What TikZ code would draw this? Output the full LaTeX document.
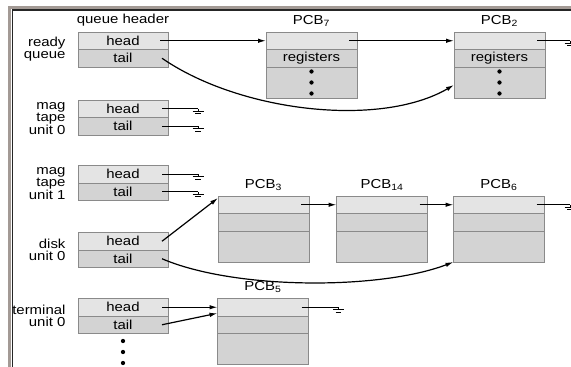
\documentclass[tikz,border=0pt]{standalone}
\usepackage{fontspec}
\setmainfont{Liberation Sans}[FakeStretch=1.15]
\usetikzlibrary{positioning,arrows.meta}

\definecolor{cellhi}{HTML}{E4E4E4}
\definecolor{celllo}{HTML}{D3D3D3}
\definecolor{celledge}{HTML}{8A8A8A}
\definecolor{frameout}{HTML}{A39A95}

\tikzset{
  txt/.style={font=\fontsize{13}{12}\selectfont},
  cell/.style={txt, draw=celledge, line width=0.9pt, inner sep=0pt, outer sep=0pt, minimum height=17.5pt},
  qcell/.style={cell, minimum width=90pt},
  pcell/.style={cell, minimum width=91pt},
  ptr/.style={line width=1.2pt, -{Latex[length=8pt,width=4.5pt]}},
  nilptr/.style={line width=1.2pt},
  dot/.style={circle, fill=black, inner sep=0pt, minimum size=4.3pt},
  lbl/.style={txt, align=right, anchor=east},
  gnd/.pic={
    \draw[line width=1pt] (0pt,0pt) -- (0pt,-2.5pt)
      (-5.5pt,-2.5pt) -- (5.5pt,-2.5pt) (-2.8pt,-5pt) -- (2.8pt,-5pt);
  }
}

\begin{document}
\begin{tikzpicture}[x=1pt, y=-1pt]
  \clip (0,0) rectangle (571,367);
  % frame
  \draw[line width=3pt, frameout] (9.5,367) -- (9.5,7) -- (571,7);
  \draw[line width=1.3pt, black!85] (12.3,367) -- (12.3,10) -- (571,10);

  % queue headers
  \foreach \q/\y in {rq/32, mt0/100, mt1/165.5, dk/232.5, tm/298.5} {
    \node[qcell, fill=cellhi, anchor=north] (\q-h) at (123,\y) {head};
    \node[qcell, fill=celllo, below=0pt of \q-h] (\q-t) {tail};
  }
  \node[txt, above=2.5pt of rq-h] (qhd) {queue header};

  \node[lbl] (rq-l)  at (69,49)  {ready\\queue};
  \node[lbl] (mt0-l) at (69,119) {mag\\tape\\unit 0};
  \node[lbl] (mt1-l) at (69,184) {mag\\tape\\unit 1};
  \node[lbl] (dk-l)  at (69,250) {disk\\unit 0};
  \node[lbl] (tm-l)  at (69,316) {terminal\\unit 0};

  \foreach \k in {341,352,363}
    \node[dot] at (123,\k) {};

  % PCBs
  \foreach \p/\x/\y in {7/311.5/32, 2/499.5/32, 3/263.5/196, 14/382/196, 6/499/196, 5/263/298.5} {
    \node[pcell, fill=cellhi, anchor=north] (pcb\p-a) at (\x,\y) {};
    \node[pcell, fill=celllo, below=0pt of pcb\p-a] (pcb\p-b) {};
    \node[pcell, fill=celllo, minimum height=31pt, below=0pt of pcb\p-b] (pcb\p-c) {};
    \node[txt, above=2pt of pcb\p-a] (pcb\p-l) {PCB\textsubscript{\p}};
  }
  \foreach \p in {7,2} {
    \node[txt] (pcb\p-r) at (pcb\p-b) {registers};
    \foreach \k in {-11,0,11}
      \node[dot] at ([yshift=\k pt]pcb\p-c.center) {};
  }

  % ready queue
  \draw[ptr] ([xshift=-8pt]rq-h.east) -- (pcb7-a.west);
  \draw[ptr] ([xshift=-8pt]pcb7-a.east) -- (pcb2-a.west);
  \coordinate (rq-end) at (570,40.75);
  \draw[nilptr] ([xshift=-8pt]pcb2-a.east) -- (rq-end) pic{gnd};
  \draw[ptr] ([xshift=-6pt]rq-t.east) .. controls (240,112) and (380,128) .. ([yshift=-2.5pt]pcb2-c.west);

  % mag tapes, empty
  \foreach \q in {mt0,mt1} {
    \draw[nilptr] ([xshift=-6pt]\q-h.east) -- ++(36,0) pic{gnd};
    \draw[nilptr] ([xshift=-6pt]\q-t.east) -- ++(36,0) pic{gnd};
  }

  % disk
  \draw[ptr] ([xshift=-6pt]dk-h.east) -- ([yshift=-2pt]pcb3-a.north west);
  \draw[ptr] ([xshift=-8pt]pcb3-a.east) -- (pcb14-a.west);
  \draw[ptr] ([xshift=-8pt]pcb14-a.east) -- (pcb6-a.west);
  \coordinate (dk-end) at (570,204.75);
  \draw[nilptr] ([xshift=-8pt]pcb6-a.east) -- (dk-end) pic{gnd};
  \draw[ptr] ([xshift=-6pt]dk-t.east) .. controls (235,290) and (380,290) .. (pcb6-c.south west);

  % terminal
  \draw[ptr] ([xshift=-6pt]tm-h.east) -- (pcb5-a.west);
  \draw[ptr] ([xshift=-6pt]tm-t.east) -- ([yshift=-6pt]pcb5-a.west);
  \draw[nilptr] ([xshift=-7pt]pcb5-a.east) -- ++(37,0) pic{gnd};
\end{tikzpicture}
\end{document}
